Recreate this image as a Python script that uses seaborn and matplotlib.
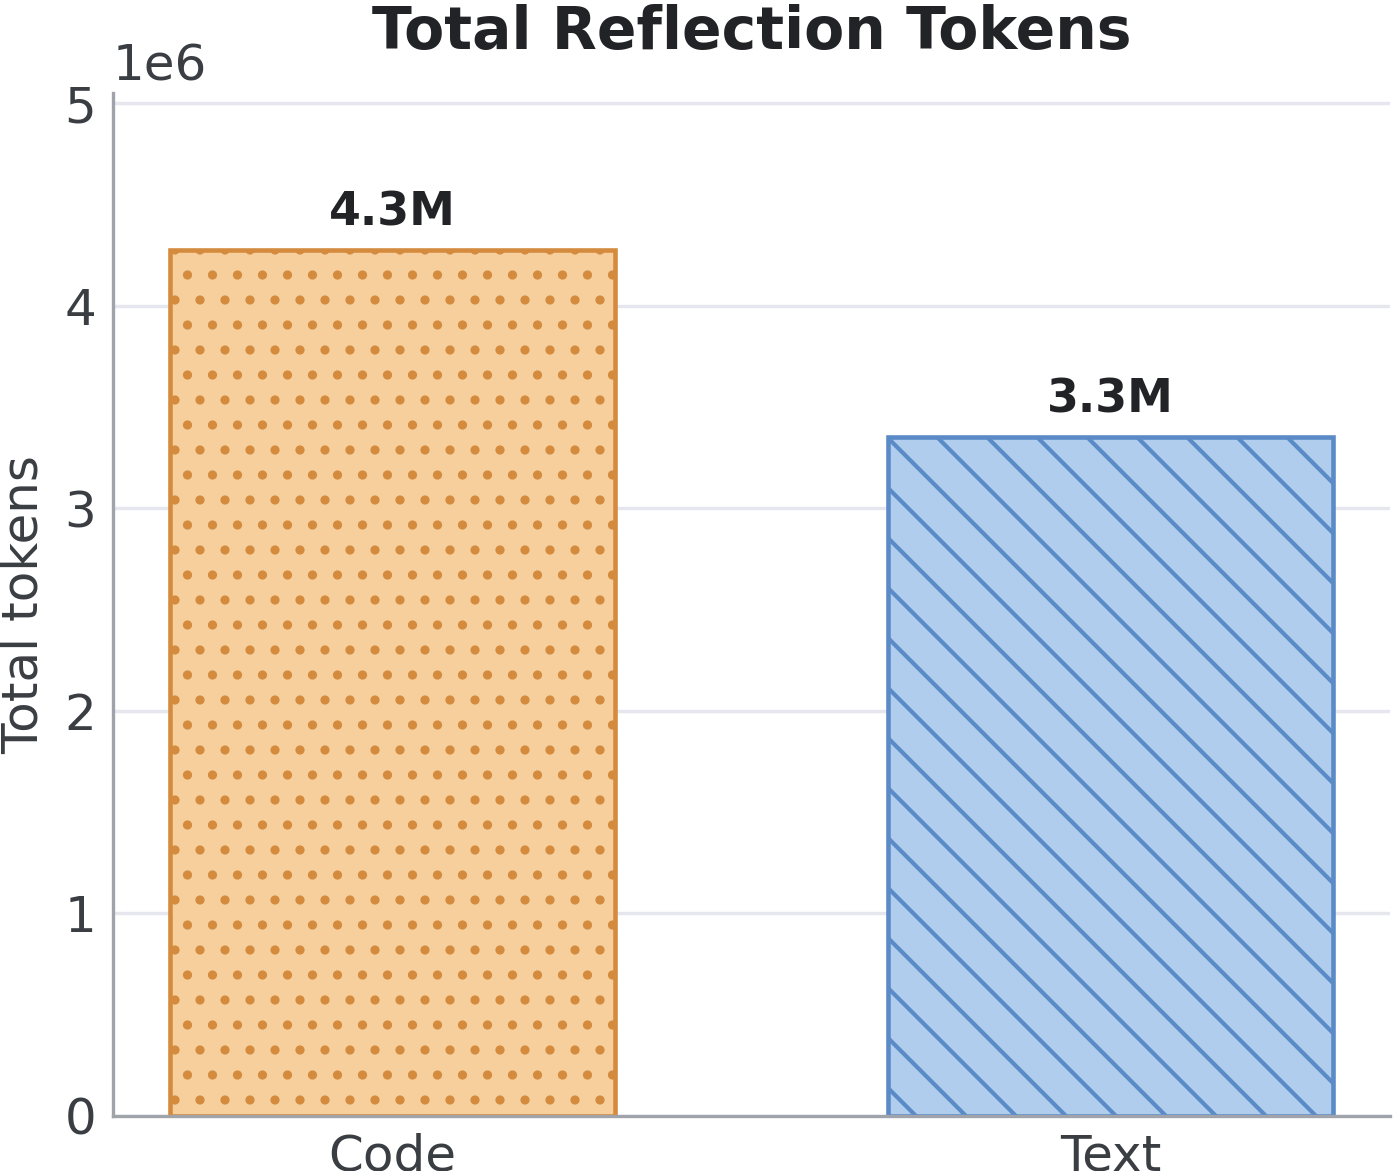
import pandas as pd
import matplotlib
matplotlib.use("Agg")
import matplotlib.pyplot as plt
import seaborn as sns

# Daten
categories = ["Code", "Text"]
total_tokens = [4.274e6, 3.351e6]
bar_labels = ["4.3M", "3.3M"]
fill_colors = ["#F6CF9C", "#B0CDEE"]
edge_colors = ["#D48B3E", "#5B8BC6"]
hatches = ["..", "\\\\"]

df = pd.DataFrame({"category": categories, "tokens": total_tokens})

sns.set_theme(style="whitegrid")
plt.rcParams["font.family"] = ["DejaVu Sans"]
plt.rcParams["hatch.linewidth"] = 1.0

fig, ax = plt.subplots(figsize=(1393 / 300, 1171 / 300), dpi=300)
fig.subplots_adjust(left=0.081, right=0.998, bottom=0.047, top=0.9206)

sns.barplot(data=df, x="category", y="tokens", hue="category",
            palette=fill_colors, saturation=1, width=0.62, ax=ax, legend=False)

for patch, ec, h in zip(ax.patches, edge_colors, hatches):
    patch.set_edgecolor(ec)
    patch.set_linewidth(1.1)
    patch.set_hatch(h)

for i, (val, lab) in enumerate(zip(total_tokens, bar_labels)):
    ax.text(i, val + 0.07e6, lab, ha="center", va="bottom",
            fontsize=11, fontweight="bold", color="#222326")

ax.set_xlim(-0.39, 1.39)
ax.set_ylim(0, 5.05e6)
ax.set_yticks([0, 1e6, 2e6, 3e6, 4e6, 5e6])
ax.ticklabel_format(axis="y", style="sci", scilimits=(0, 0))
ax.yaxis.get_offset_text().set_fontsize(12)
ax.yaxis.get_offset_text().set_color("#3a3e42")

ax.set_title("Total Reflection Tokens", fontsize=14, fontweight="bold",
             color="#222326", pad=10.5)
ax.set_xlabel("")
ax.set_ylabel("Total tokens", fontsize=12, color="#3a3e42", labelpad=4)
ax.tick_params(axis="both", labelsize=12, labelcolor="#3a3e42",
               length=0, pad=4)

ax.grid(axis="x", visible=False)
ax.grid(axis="y", color="#e6e7ee", linewidth=0.8)
ax.set_axisbelow(True)
for side in ["top", "right"]:
    ax.spines[side].set_visible(False)
for side in ["left", "bottom"]:
    ax.spines[side].set_color("#a0a4aa")
    ax.spines[side].set_linewidth(0.8)

fig.savefig("out.png", dpi=300)
